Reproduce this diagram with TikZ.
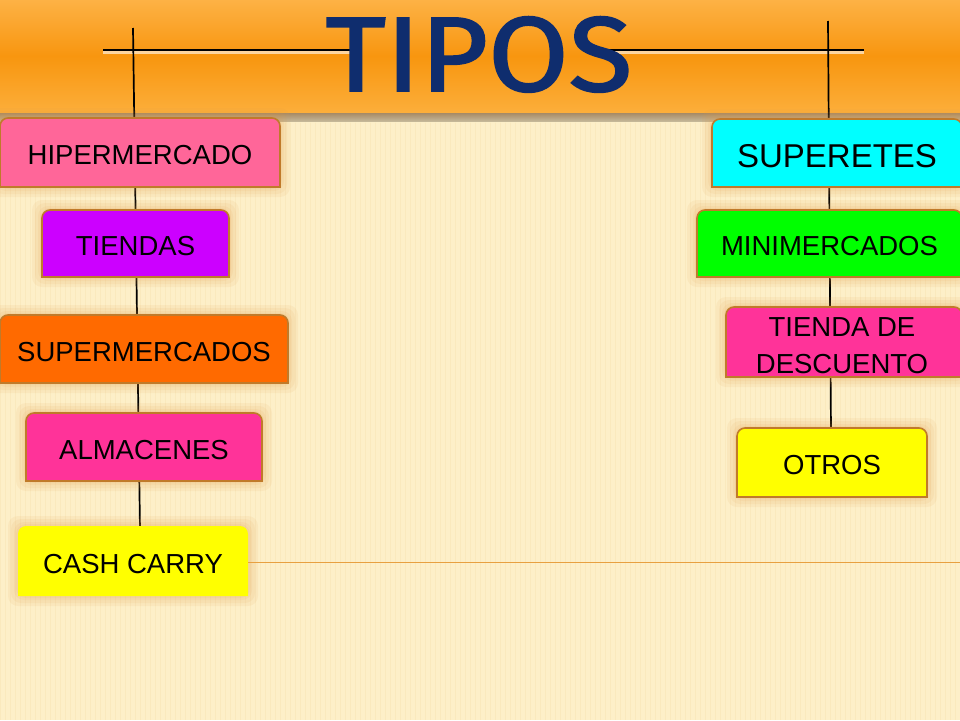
\documentclass[tikz,border=0pt]{standalone}
\usepackage{fontspec}
\setmainfont{Liberation Sans}
\newfontfamily\titlefont[FakeBold=1.8, FakeStretch=1.1]{Fira Sans}
\definecolor{bgbeige}{HTML}{FDEFC8}
\definecolor{stripe}{HTML}{F6DFAA}
\definecolor{bandtop}{HTML}{FDB245}
\definecolor{bandmid}{HTML}{F8960F}
\definecolor{bandbot}{HTML}{FCAE3A}
\definecolor{bandshadow}{HTML}{C9A070}
\definecolor{navy}{HTML}{0F2D6E}
\definecolor{boxedge}{HTML}{C07A2A}
\definecolor{glowcol}{HTML}{E39A45}
\definecolor{cpink}{HTML}{FF6699}
\definecolor{cpurple}{HTML}{CC00FF}
\definecolor{corange}{HTML}{FF6A00}
\definecolor{cmagenta}{HTML}{FF3399}
\definecolor{cyellow}{HTML}{FFFF00}
\definecolor{ccyan}{HTML}{00FFFF}
\definecolor{cgreen}{HTML}{00FF00}
\definecolor{thinorange}{HTML}{E8A040}
\tikzset{
  glowlayer/.style={fill=glowcol, opacity=0.09},
  boxshape/.style={draw=boxedge, line width=1.6pt},
  boxtext/.style={inner sep=0pt, align=center, font=\fontsize{27.5}{29}\selectfont, text=black, yshift=-3pt},
  connector/.style={draw=black, line width=1.7pt},
}
\newcommand{\glowrect}[4]{%
  \foreach \g in {10,7,4,2} {\fill[glowlayer, rounded corners=10pt] (#1-\g,#2-\g) rectangle (#3+\g,#4+\g);}%
}
% name, x1, y1, x2, y2, fill, text, extra node options
\newcommand{\tabbox}[8]{%
  \glowrect{#2}{#3}{#4}{#5}
  \path[boxshape, fill=#6] (#2,#5) [rounded corners=8pt] -- (#2,#3) -- (#4,#3) [sharp corners] -- (#4,#5) -- cycle;
  \node[boxtext, minimum width=#4-#2, minimum height=#5-#3, #8] (#1) at ({(#2+#4)/2},{(#3+#5)/2}) {#7};%
}
\begin{document}
\begin{tikzpicture}[x=1pt, y=-1pt]
\useasboundingbox (0,0) rectangle (960,720);
% background
\fill[bgbeige] (0,0) rectangle (960,720);
\foreach \i in {0,5,...,960} {\draw[stripe, line width=0.6pt, opacity=0.35] (\i,112) -- (\i,720);}
% title band shadow
\fill[top color=bandshadow, bottom color=bgbeige, opacity=0.7] (0,112) rectangle (960,122);
% title band
\fill[top color=bandtop, bottom color=bandmid] (0,0) rectangle (960,56);
\fill[top color=bandmid, bottom color=bandbot] (0,56) rectangle (960,112);
% title lines
\coordinate (hl1) at (103,50);
\coordinate (hl2) at (362,50);
\coordinate (hr1) at (606,50);
\coordinate (hr2) at (864,50);
\draw[white, line width=3pt, opacity=0.6] ([yshift=-2.5pt]hl1) -- ([yshift=-2.5pt]hl2);
\draw[white, line width=3pt, opacity=0.6] ([yshift=-2.5pt]hr1) -- ([yshift=-2.5pt]hr2);
\draw[connector, line width=2.6pt] (hl1) -- (hl2);
\draw[connector, line width=2.6pt] (hr1) -- (hr2);
\coordinate (lt) at (133,28);
\coordinate (lb) at (140,530);
\coordinate (rt) at (828,21);
\coordinate (rb) at (831,432);
\draw[connector] (lt) -- (lb);
\draw[connector] (rt) -- (rb);
% title
\node[anchor=base, inner sep=0pt, text=navy, font=\titlefont\fontsize{106}{106}\selectfont] (title) at (479,91) {TIPOS};
% left column
\tabbox{hip}{0}{118}{280}{187}{cpink}{HIPERMERCADO}{}
\tabbox{tie}{42}{210}{229}{277}{cpurple}{TIENDAS}{}
\tabbox{sup}{0}{315}{288}{383}{corange}{SUPERMERCADOS}{}
\tabbox{alm}{26}{413}{262}{481}{cmagenta}{ALMACENES}{}
\glowrect{18}{526}{248}{596}
\path[fill=cyellow] (18,596) [rounded corners=8pt] -- (18,526) -- (248,526) [sharp corners] -- (248,596) -- cycle;
\node[boxtext, minimum width=230, minimum height=70] (cash) at (133,561) {CASH CARRY};
\coordinate (lineend) at (960,562);
\draw[thinorange, line width=0.9pt] (248,562) -- (lineend);
% right column
\tabbox{sprt}{712}{119}{962}{187}{ccyan}{SUPERETES}{font=\fontsize{33}{35}\selectfont}
\tabbox{mini}{697}{210}{962}{277}{cgreen}{MINIMERCADOS}{}
\tabbox{desc}{726}{307}{962}{377}{cmagenta}{}{}
\node[boxtext, font=\fontsize{27.5}{37}\selectfont, anchor=center] (desctext) at (842,343) {TIENDA DE\\DESCUENTO};
\tabbox{otros}{737}{428}{927}{497}{cyellow}{OTROS}{}
\end{tikzpicture}
\end{document}
